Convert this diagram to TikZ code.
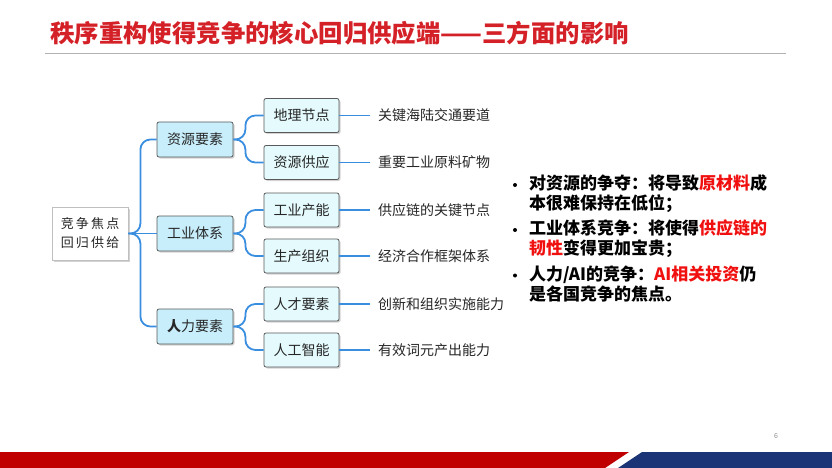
\documentclass[tikz,border=0pt]{standalone}
\usepackage{fontspec}
\setmainfont{Noto Sans CJK SC}
\usetikzlibrary{shadows,positioning}
\definecolor{titlered}{HTML}{D42027}
\definecolor{hotred}{HTML}{F01010}
\definecolor{linkblue}{HTML}{3A8EE0}
\definecolor{mainfill}{HTML}{C8EEFB}
\definecolor{subfill}{HTML}{E4FAFD}
\definecolor{bandred}{HTML}{C00000}
\definecolor{bandblue}{HTML}{1B3476}

\begin{document}
\begin{tikzpicture}[x=1pt,y=-1pt,every node/.style={inner sep=0pt,text=black!85},
  boxbase/.style={draw=black!65,rounded corners=2pt,line width=0.8pt,
    font=\fontsize{14}{16}\selectfont,
    drop shadow={shadow xshift=1.5pt,shadow yshift=-1.5pt,opacity=0.35}},
  rootbox/.style={boxbase,fill=white,rounded corners=0pt,draw=black!25,minimum width=76pt,minimum height=53pt,
    align=center,font=\fontsize{13}{19}\selectfont},
  mainbox/.style={boxbase,fill=mainfill,minimum width=76pt,minimum height=35pt},
  subbox/.style={boxbase,fill=subfill,minimum width=75pt,minimum height=34pt},
  leaf/.style={anchor=west,outer sep=8pt,font=\fontsize{14}{16}\selectfont},
  link/.style={linkblue,line width=1.8pt,rounded corners=10pt},
  point/.style={anchor=west,align=left,font=\bfseries\fontsize{17}{19.5}\selectfont,text=black},
  dot/.style={circle,fill=black,minimum size=4pt}]
\useasboundingbox (0,0) rectangle (832,468);

% title
\node[anchor=west,font=\bfseries\fontsize{24.4}{28}\selectfont,text=titlered] (title) at (50,33)
  {秩序重构使得竞争的核心回归供应端——三方面的影响};
\draw[black!30,line width=1pt] (45,54) -- (786,54);

% mind map
\node[rootbox] (root) at (90,233.5) {竞\,争\,焦\,点\\回\,归\,供\,给};
\node[mainbox] (res) at (195,139.5) {资源要素};
\node[mainbox] (ind) at (195,233.5) {工业体系};
\node[mainbox] (hum) at (195,326.5) {{\bfseries 人}力要素};

\node[subbox] (geo) at (301.5,115.5) {地理节点};
\node[subbox] (sup) at (301.5,162.5) {资源供应};
\node[subbox] (cap) at (301.5,210) {工业产能};
\node[subbox] (org) at (301.5,256) {生产组织};
\node[subbox] (tal) at (301.5,304) {人才要素};
\node[subbox] (ai) at (301.5,350) {人工智能};

\node[leaf] (geoleaf) at (370,115.5) {关键海陆交通要道};
\node[leaf] (supleaf) at (370,162.5) {重要工业原料矿物};
\node[leaf] (capleaf) at (370,210) {供应链的关键节点};
\node[leaf] (orgleaf) at (370,256) {经济合作框架体系};
\node[leaf] (talleaf) at (370,304) {创新和组织实施能力};
\node[leaf] (aileaf) at (370,350) {有效词元产出能力};

\draw[link] (root.east) -- ++(12,0) |- (res.west);
\draw[link] (root.east) -- (ind.west);
\draw[link] (root.east) -- ++(12,0) |- (hum.west);
\draw[link] (res.east) -- ++(12,0) |- (geo.west);
\draw[link] (res.east) -- ++(12,0) |- (sup.west);
\draw[link] (ind.east) -- ++(12,0) |- (cap.west);
\draw[link] (ind.east) -- ++(12,0) |- (org.west);
\draw[link] (hum.east) -- ++(12,0) |- (tal.west);
\draw[link] (hum.east) -- ++(12,0) |- (ai.west);
\foreach \b in {geo,sup,cap,org,tal,ai}
  \draw[link] (\b.east) -- (\b leaf.west);

% key points
\node[point] (p1) at (529,193.5) {对资源的争夺：将导致{\color{hotred}原材料}成\\本很难保持在低位；};
\node[point] (p2) at (529,238.5) {工业体系竞争：将使得{\color{hotred}供应链的}\\{\color{hotred}韧性}变得更加宝贵；};
\node[point] (p3) at (529,284) {人力/AI的竞争：{\color{hotred}AI相关投资}仍\\是各国竞争的焦点。};
\node[dot] (d1) at (515,185) {};
\node[dot] (d2) at (515,230) {};
\node[dot] (d3) at (515,275.5) {};

% footer
\node[font=\fontsize{7}{8}\selectfont,text=black!45] (page) at (776,436) {6};
\fill[bandred] (0,452) -- (629,452) -- (605,468) -- (0,468) -- cycle;
\fill[bandblue] (642,452) -- (832,452) -- (832,468) -- (618,468) -- cycle;
\end{tikzpicture}
\end{document}
